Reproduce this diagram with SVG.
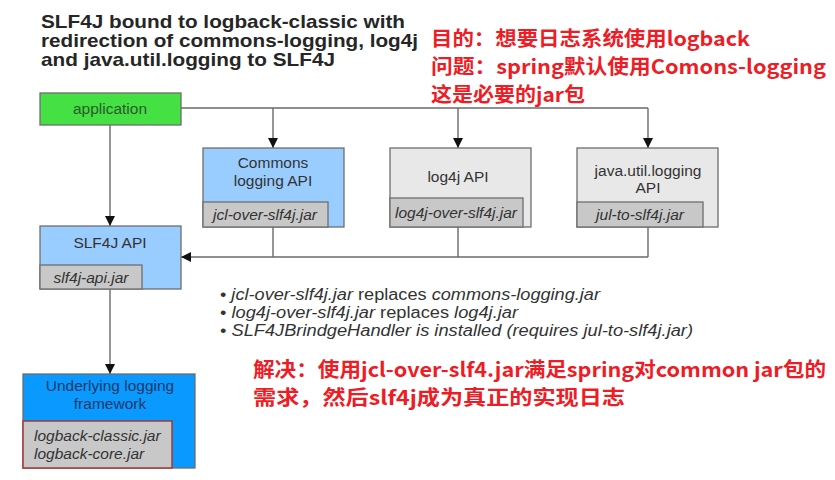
<svg xmlns="http://www.w3.org/2000/svg" width="835" height="480" viewBox="0 0 835 480">
<defs>
<marker id="ah" viewBox="0 0 10 10" refX="10" refY="5" markerWidth="10" markerHeight="10" markerUnits="userSpaceOnUse" orient="auto">
<path d="M0,0 L10,5 L0,10 Z" fill="#111"/>
</marker>
</defs>
<style>
.title{font-family:"Liberation Sans",Arial,sans-serif;font-weight:bold;font-size:19px;fill:#262626}
.red{font-family:"Noto Sans CJK SC","Liberation Sans",sans-serif;font-weight:bold;font-size:20px;fill:#ee1c25}
.box{stroke:#6e6e6e;stroke-width:1.3}
.lbl{font-family:"Liberation Sans",Arial,sans-serif;font-size:15.5px;fill:#333;text-anchor:middle}
.jar{font-family:"Liberation Sans",Arial,sans-serif;font-size:15.5px;font-style:italic;fill:#333;text-anchor:middle}
.bul{font-family:"Liberation Sans",Arial,sans-serif;font-size:16px;fill:#333}
.ln{stroke:#6a6a6a;stroke-width:1.4;fill:none}
</style>
<rect width="835" height="480" fill="#fff"/>
<text class="title" x="41" y="28" textLength="364" lengthAdjust="spacingAndGlyphs">SLF4J bound to logback-classic with</text>
<text class="title" x="41" y="47" textLength="377" lengthAdjust="spacingAndGlyphs">redirection of commons-logging, log4j</text>
<text class="title" x="41" y="66" textLength="294" lengthAdjust="spacingAndGlyphs">and java.util.logging to SLF4J</text>

<text class="red" x="431" y="46" textLength="319" lengthAdjust="spacingAndGlyphs">目的：想要日志系统使用logback</text>
<text class="red" x="431" y="74" textLength="395" lengthAdjust="spacingAndGlyphs">问题：spring默认使用Comons-logging</text>
<text class="red" x="431" y="102" textLength="154" lengthAdjust="spacingAndGlyphs">这是必要的jar包</text>

<g id="connectors">
<polyline class="ln" points="181,108 648,108"/>
<line class="ln" x1="273" y1="108" x2="273" y2="148" marker-end="url(#ah)"/>
<line class="ln" x1="458" y1="108" x2="458" y2="148" marker-end="url(#ah)"/>
<line class="ln" x1="648" y1="108" x2="648" y2="148" marker-end="url(#ah)"/>
<line class="ln" x1="110" y1="125" x2="110" y2="226" marker-end="url(#ah)"/>
<polyline class="ln" points="273,227 273,257"/>
<polyline class="ln" points="458,227 458,257"/>
<polyline class="ln" points="648,227 648,257"/>
<line class="ln" x1="648" y1="257" x2="181" y2="257" marker-end="url(#ah)"/>
<line class="ln" x1="110" y1="289" x2="110" y2="374" marker-end="url(#ah)"/>
</g>

<g id="application">
<rect class="box" x="40" y="93" width="141" height="32" fill="#44e044"/>
<text class="lbl" x="110" y="114" style="fill:#2a5a2a">application</text>
</g>

<g id="commons">
<rect class="box" x="203" y="148" width="141" height="79" fill="#99ccff"/>
<text class="lbl" x="273" y="168">Commons</text>
<text class="lbl" x="273" y="186">logging API</text>
<rect class="box" x="203" y="202" width="125" height="25" fill="#c8c8c8"/>
<text class="jar" x="265" y="220">jcl-over-slf4j.jar</text>
</g>

<g id="log4j">
<rect class="box" x="390" y="148" width="141" height="79" fill="#e8e8e8"/>
<text class="lbl" x="458" y="182">log4j API</text>
<rect class="box" x="390" y="198" width="133" height="29" fill="#c8c8c8"/>
<text class="jar" x="456" y="218">log4j-over-slf4j.jar</text>
</g>

<g id="jul">
<rect class="box" x="577" y="148" width="141" height="79" fill="#e8e8e8"/>
<text class="lbl" x="648" y="176">java.util.logging</text>
<text class="lbl" x="648" y="193">API</text>
<rect class="box" x="577" y="202" width="126" height="25" fill="#c8c8c8"/>
<text class="jar" x="640" y="220">jul-to-slf4j.jar</text>
</g>

<g id="slf4j">
<rect class="box" x="40" y="226" width="141" height="63" fill="#99ccff"/>
<text class="lbl" x="110" y="248">SLF4J API</text>
<rect class="box" x="40" y="265" width="102" height="24" fill="#c8c8c8"/>
<text class="jar" x="91" y="283">slf4j-api.jar</text>
</g>

<g id="notes">
<text class="bul" x="220" y="300" textLength="380" lengthAdjust="spacingAndGlyphs">• <tspan font-style="italic">jcl-over-slf4j.jar</tspan> replaces <tspan font-style="italic">commons-logging.jar</tspan></text>
<text class="bul" x="220" y="318" textLength="298" lengthAdjust="spacingAndGlyphs">• <tspan font-style="italic">log4j-over-slf4j.jar</tspan> replaces <tspan font-style="italic">log4j.jar</tspan></text>
<text class="bul" x="220" y="336" textLength="473" lengthAdjust="spacingAndGlyphs">• <tspan font-style="italic">SLF4JBrindgeHandler is installed (requires jul-to-slf4j.jar)</tspan></text>
</g>

<g id="underlying">
<rect class="box" x="23" y="374" width="172" height="94" fill="#0a99ff"/>
<text class="lbl" x="110" y="391" style="fill:#1d3a66">Underlying logging</text>
<text class="lbl" x="110" y="409" style="fill:#1d3a66">framework</text>
<rect x="23" y="421" width="149" height="47" fill="#c8c8c8" stroke="#a03a3a" stroke-width="1.5"/>
<text class="jar" x="34" y="441" style="text-anchor:start">logback-classic.jar</text>
<text class="jar" x="34" y="459" style="text-anchor:start">logback-core.jar</text>
</g>

<text class="red" x="253" y="377" textLength="573" lengthAdjust="spacingAndGlyphs">解决：使用jcl-over-slf4.jar满足spring对common jar包的</text>
<text class="red" x="253" y="405" textLength="372" lengthAdjust="spacingAndGlyphs">需求，然后slf4j成为真正的实现日志</text>
</svg>
